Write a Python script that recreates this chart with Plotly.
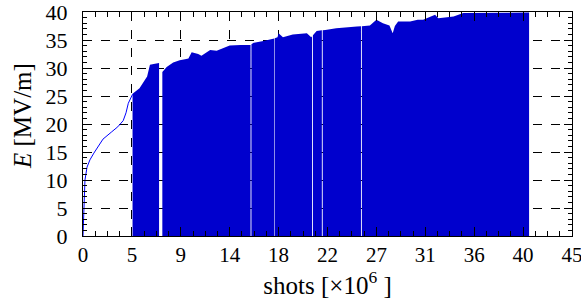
import numpy as np
import plotly.graph_objects as go

# initial conditioning ramp (line)
ramp_x = [0, 0.05, 0.1, 0.18, 0.37, 0.64, 1.0, 1.26, 1.84, 2.64, 3.2, 3.7, 3.96, 4.17, 4.42, 4.56]
ramp_y = [0, 4, 7, 10, 12.3, 13.6, 14.8, 15.6, 17.3, 18.6, 19.5, 20.6, 22.0, 23.7, 24.7, 25.3]

# envelope of the pulsed operation region
env_x = [4.56, 5.2, 5.9, 6.16, 6.5, 6.8, 7.0, 7.3, 7.7, 8.3, 8.9, 9.5, 9.7, 10.0, 10.6, 10.9,
         11.7, 12.3, 12.9, 13.5, 14.5, 15.4, 15.7, 16.6, 17.5, 17.9, 18.0, 18.4, 19.3, 20.6,
         21.0, 21.5, 22.3, 23.3, 25.2, 26.4, 27.0, 27.6, 28.2, 28.5, 28.7, 29.0, 30.1, 30.8,
         31.3, 32.4, 32.7, 34.1, 35.0, 36.2, 38.4, 40.7, 41.05]
env_y = [25.4, 26.4, 28.5, 30.6, 30.7, 30.9, 30.9, 29.3, 30.2, 31.0, 31.4, 31.6, 31.7, 32.8, 32.5, 32.2,
         33.2, 33.1, 33.5, 34.0, 34.1, 34.1, 34.5, 34.8, 35.2, 35.5, 36.2, 35.5, 36.0, 36.2,
         35.5, 36.6, 36.8, 37.1, 37.4, 37.6, 38.6, 38.0, 37.6, 36.2, 37.5, 38.3, 38.3, 38.6,
         38.6, 39.5, 38.9, 39.2, 39.8, 39.8, 39.9, 39.9, 39.9]

# intervals with no data (white gaps)
gap_start = [7.0, 15.42, 17.6, 21.08, 21.98, 25.58]
gap_end = [7.3, 15.5, 17.65, 21.16, 22.06, 25.66]

tick_vals = [0, 4.5, 9, 13.5, 18, 22.5, 27, 31.5, 36, 40.5, 45]
tick_text = ['0', '5', '9', '14', '18', '22', '27', '31', '36', '40', '45']
ytick_vals = [0, 5, 10, 15, 20, 25, 30, 35, 40]

# build fill polygon with gaps
ex = np.array(env_x)
ey = np.array(env_y)
pts = [(x, y) for x, y in zip(env_x, env_y)
       if not any(a < x < b for a, b in zip(gap_start, gap_end))]
for g0, g1 in zip(gap_start, gap_end):
    pts += [(g0, float(np.interp(g0, ex, ey))), (g0 + 1e-6, 0.0),
            (g1 - 1e-6, 0.0), (g1, float(np.interp(g1, ex, ey)))]
pts.sort(key=lambda p: p[0])
xs = [p[0] for p in pts]
ys = [p[1] for p in pts]

fig = go.Figure()
fig.add_trace(go.Scatter(x=xs, y=ys, mode='lines', fill='tozeroy',
                         fillcolor='#0000CD', line=dict(width=0, color='#0000CD'),
                         showlegend=False, hoverinfo='skip'))
fig.add_trace(go.Scatter(x=ramp_x, y=ramp_y, mode='lines',
                         line=dict(width=1, color='#0000FF'), showlegend=False))

serif = 'Liberation Serif'
fig.update_layout(
    width=581, height=304,
    margin=dict(l=83, r=9, t=12, b=68, autoexpand=False),
    paper_bgcolor='white', plot_bgcolor='white',
    font=dict(family=serif, size=22, color='black'),
    xaxis=dict(range=[0, 45], tickmode='array', tickvals=tick_vals, ticktext=tick_text,
               showgrid=True, gridcolor='black', griddash='dash', gridwidth=1,
               showline=True, linecolor='black', linewidth=1, mirror='allticks',
               ticks='inside', ticklen=9, tickcolor='black', ticklabelstandoff=0,
               ticklabeloverflow='allow',
               tickfont=dict(family=serif, size=21),
               minor=dict(dtick=1.125, tick0=0, ticks='inside', ticklen=5, tickcolor='black', showgrid=False),
               zeroline=False, automargin=False,
               title=dict(text='shots [×10<sup>6</sup> ]', font=dict(family=serif, size=25), standoff=2)),
    yaxis=dict(range=[0, 40], tickmode='array', tickvals=ytick_vals,
               showgrid=True, gridcolor='black', griddash='dash', gridwidth=1,
               showline=True, linecolor='black', linewidth=1, mirror='allticks',
               ticks='inside', ticklen=8, tickcolor='black', ticklabelstandoff=10,
               ticklabeloverflow='allow',
               tickfont=dict(family=serif, size=22),
               minor=dict(dtick=1, tick0=0, ticks='inside', ticklen=4, tickcolor='black', showgrid=False),
               zeroline=False, automargin=False),
    annotations=[dict(text='<i>E</i> [MV/m]', xref='paper', yref='paper', x=0, y=0.5,
                      xanchor='center', yanchor='middle', xshift=-61, yshift=8,
                      textangle=-90, showarrow=False,
                      font=dict(family=serif, size=25, color='black'))],
)
fig.write_html('out.html', config={'displayModeBar': False},
               post_script="document.body.style.margin='0px';")
